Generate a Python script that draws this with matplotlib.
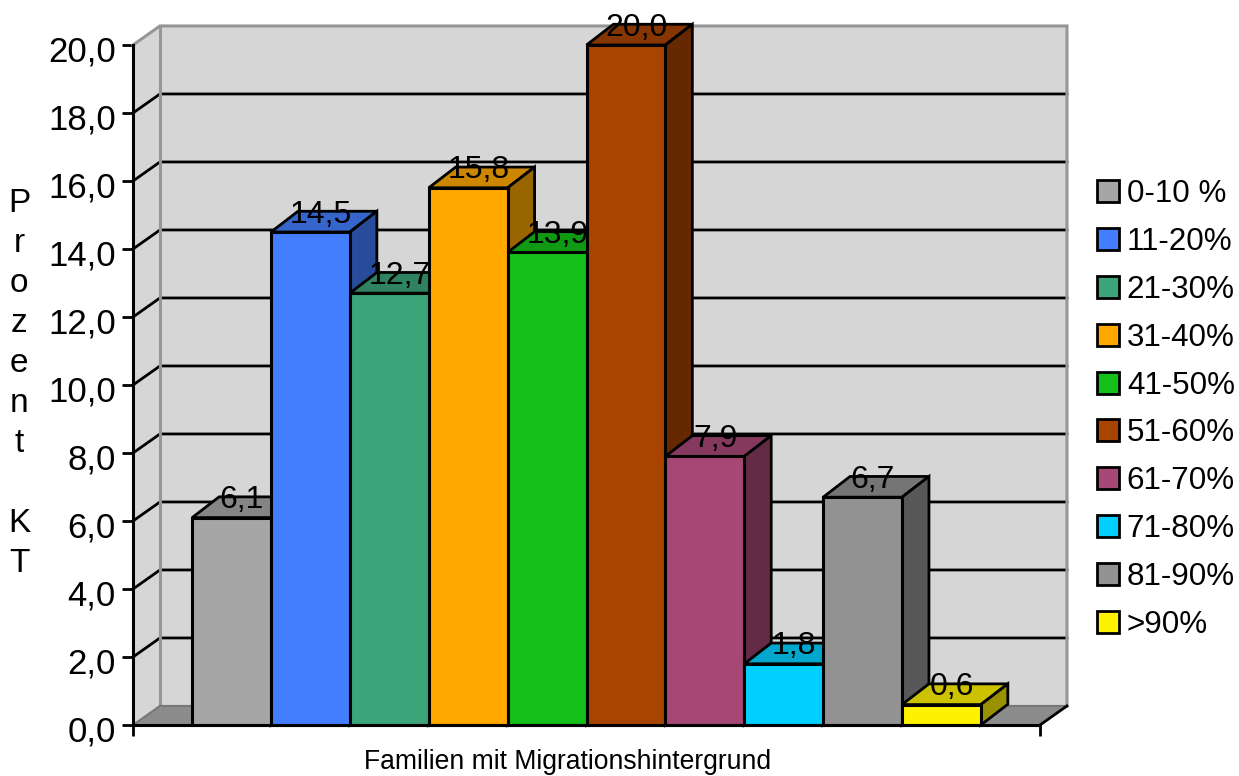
import matplotlib
matplotlib.use("Agg")
import matplotlib.pyplot as plt
from matplotlib.colors import to_rgb
from matplotlib.patches import Patch, Polygon
from matplotlib.transforms import ScaledTranslation

categories = ["0-10 %", "11-20%", "21-30%", "31-40%", "41-50%",
              "51-60%", "61-70%", "71-80%", "81-90%", ">90%"]
percent_kt = [6.1, 14.5, 12.7, 15.8, 13.9, 20.0, 7.9, 1.8, 6.7, 0.6]
bar_colors = ["#A6A6A6", "#437EFF", "#3BA478", "#FFA800", "#14BF18",
              "#A84300", "#A64776", "#00CFFF", "#929292", "#FFF200"]
y_ticks = [0, 2, 4, 6, 8, 10, 12, 14, 16, 18, 20]
y_title = "P\nr\no\nz\ne\nn\nt\n\nK\nT"
x_title = "Familien mit Migrationshintergrund"

# fake 3D depth in axis units
DX = 0.342
DY = 0.56
BAR_DY = 0.61
GAP = 0.75
X_MAX = len(percent_kt) + 2 * GAP
Y_MAX = 20

plt.rcParams["font.family"] = ["Liberation Sans", "DejaVu Sans"]


def shade(color, factor):
    return tuple(c * factor for c in to_rgb(color))


def draw_walls(ax):
    wall = "#D6D6D6"
    edge = "#969696"
    ax.add_patch(Polygon([(0, 0), (DX, DY), (DX, Y_MAX + DY), (0, Y_MAX)],
                         fc=wall, ec="none", zorder=1, clip_on=False))
    ax.add_patch(Polygon([(DX, DY), (X_MAX + DX, DY), (X_MAX + DX, Y_MAX + DY), (DX, Y_MAX + DY)],
                         fc=wall, ec="none", zorder=1, clip_on=False))
    ax.add_patch(Polygon([(0, 0), (X_MAX, 0), (X_MAX + DX, DY), (DX, DY)],
                         fc="#8C8C8C", ec="none", zorder=1, clip_on=False))
    for v in y_ticks[1:-1]:
        ax.plot([0, DX, X_MAX + DX], [v, v + DY, v + DY], color="black", lw=2,
                zorder=2, clip_on=False, solid_joinstyle="miter")
    ax.plot([0, DX, X_MAX + DX, X_MAX + DX], [Y_MAX, Y_MAX + DY, Y_MAX + DY, DY],
            color=edge, lw=2.2, zorder=2, clip_on=False, solid_joinstyle="miter")
    ax.plot([DX, DX], [DY, Y_MAX + DY], color=edge, lw=2.2, zorder=2, clip_on=False)
    ax.plot([0, DX, X_MAX + DX], [0, DY, DY], color="#777777", lw=1.5, zorder=2, clip_on=False)
    ax.plot([X_MAX, X_MAX + DX], [0, DY], color="black", lw=2, zorder=2, clip_on=False)


def draw_bars(ax):
    # left to right so each bar hides the side of the one before it
    for i, (value, color) in enumerate(zip(percent_kt, bar_colors)):
        left = GAP + i
        right = left + 1
        z = 3 + i
        ax.add_patch(Polygon([(left, value), (right, value), (right + DX, value + BAR_DY), (left + DX, value + BAR_DY)],
                             fc=shade(color, 0.8), ec="black", lw=2, zorder=z,
                             clip_on=False, joinstyle="miter"))
        ax.add_patch(Polygon([(right, 0), (right + DX, BAR_DY), (right + DX, value + BAR_DY), (right, value)],
                             fc=shade(color, 0.6), ec="black", lw=2, zorder=z,
                             clip_on=False, joinstyle="miter"))
        ax.bar(left, value, width=1, align="edge", color=color, edgecolor="black",
               linewidth=2.2, zorder=z, clip_on=False)


fig = plt.figure(figsize=(12.39, 7.76), dpi=100)
ax = fig.add_axes([133 / 1239, (776 - 725) / 776, 907 / 1239, 680 / 776])
ax.set_xlim(0, X_MAX)
ax.set_ylim(0, Y_MAX)

draw_walls(ax)
draw_bars(ax)

for i, value in enumerate(percent_kt):
    ax.text(GAP + i + 0.46 + DX / 2, value + BAR_DY - 0.1, f"{value:.1f}".replace(".", ","),
            ha="center", va="center", fontsize=23, zorder=20, clip_on=False)

ax.set_yticks(y_ticks)
ax.set_yticklabels([f"{v:.1f}".replace(".", ",") for v in y_ticks], fontsize=25)
ax.set_xticks([0, X_MAX])
ax.set_xticklabels([])
ax.tick_params(axis="both", length=8, width=2, pad=4.5)
# tick labels sit a little below their ticks
label_shift = ScaledTranslation(0, -3 / 100, fig.dpi_scale_trans)
for label in ax.get_yticklabels():
    label.set_transform(label.get_transform() + label_shift)
for side in ["top", "right"]:
    ax.spines[side].set_visible(False)
for side in ["left", "bottom"]:
    ax.spines[side].set_linewidth(2.2)
    ax.spines[side].set_zorder(15)

fig.text(19 / 1239, 1 - 384 / 776, y_title, ha="center", va="center", fontsize=24, linespacing=1.375)
fig.text(568 / 1239, 1 - 762 / 776, x_title, ha="center", va="center", fontsize=19.1)

handles = [Patch(fc=c, ec="black", lw=2) for c in bar_colors]
fig.legend(handles, categories, loc="upper left", bbox_to_anchor=(1097 / 1239, 1 - 179 / 776),
           frameon=False, fontsize=22.6, handlelength=0.7, handleheight=0.7,
           handletextpad=0.25, labelspacing=0.57, borderpad=0, borderaxespad=0)

fig.savefig("out.png", dpi=100)
